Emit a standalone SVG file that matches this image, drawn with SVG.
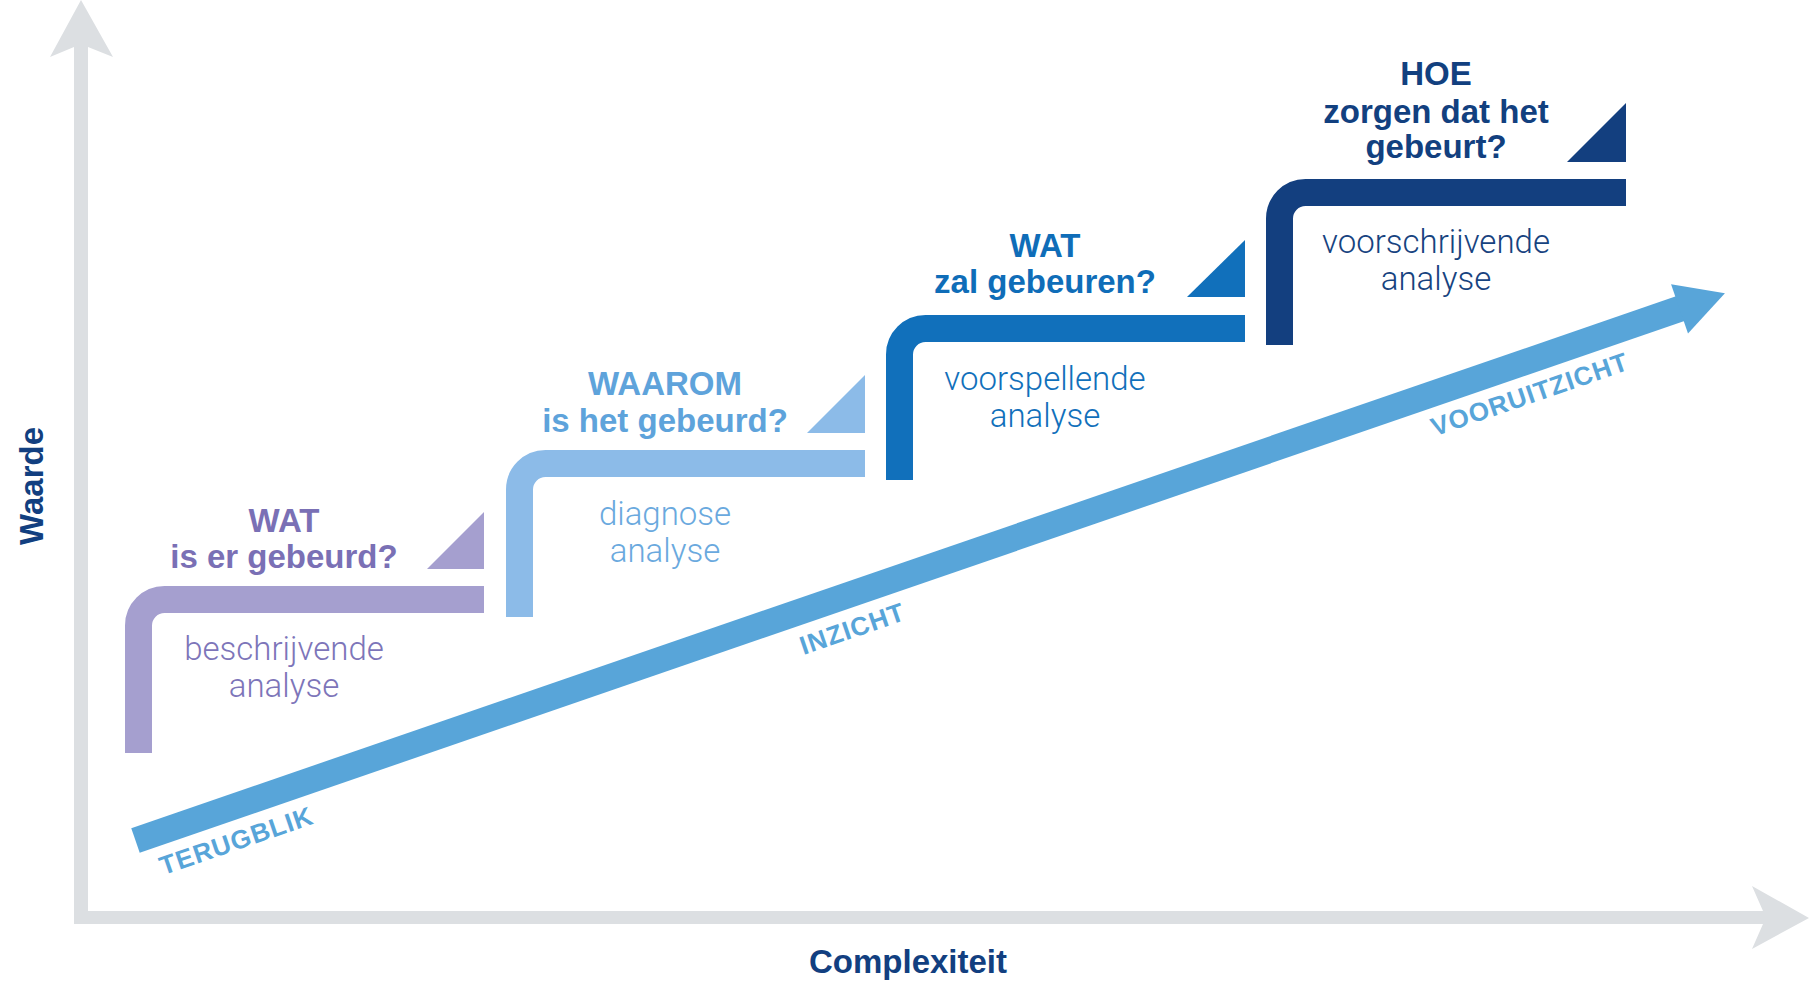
<svg xmlns="http://www.w3.org/2000/svg" width="1810" height="1000" viewBox="0 0 1810 1000">
<style>
.title{font-family:"Liberation Sans",Arial,sans-serif;font-weight:bold;font-size:33px;text-anchor:middle}
.desc{font-family:Roboto,"Liberation Sans",sans-serif;font-weight:300;font-size:33px;text-anchor:middle}
.axis-label{font-family:"Liberation Sans",Arial,sans-serif;font-weight:bold;font-size:33px;fill:#123f80;text-anchor:middle}
.arrow-label{font-family:"Liberation Sans",Arial,sans-serif;font-weight:bold;font-size:26px;fill:#58a5d9;letter-spacing:1px}
.bar{fill:none;stroke-width:27;stroke-linecap:butt}
</style>
<rect width="1810" height="1000" fill="#ffffff"/>
<g id="axes">
<path d="M81,0 L113,57 L88,47 L88,911 L1763,911 L1752,886 L1809,918 L1752,949 L1763,924 L74,924 L74,47 L50,57 Z" fill="#dcdfe2"/>
<text class="axis-label" transform="translate(43,486) rotate(-90)">Waarde</text>
<text class="axis-label" x="908" y="973">Complexiteit</text>
</g>
<g id="connectors">
<g id="trend-arrow" transform="translate(135.5,840.5) rotate(-19)">
<rect x="0" y="-13" width="1636" height="26" fill="#58a5d9"/>
<polygon points="1633,-26 1681,0 1633,26" fill="#58a5d9"/>
<text class="arrow-label" x="15" y="42">TERUGBLIK</text>
<text class="arrow-label" x="692" y="42">INZICHT</text>
<text class="arrow-label" x="1360" y="41">VOORUITZICHT</text>
</g>
</g>
<g id="step1">
<path class="bar" stroke="#a59fcf" d="M138.5,753 L138.5,625.5 A26,26 0 0 1 164.5,599.5 L484,599.5"/>
<polygon points="427,569 484,512 484,569" fill="#a59fcf"/>
<text class="title" fill="#7a70b5" x="284" y="532">WAT</text>
<text class="title" fill="#7a70b5" x="284" y="568">is er gebeurd?</text>
<text class="desc" fill="#7d75b9" x="284" y="660">beschrijvende</text>
<text class="desc" fill="#7d75b9" x="284" y="697">analyse</text>
</g>
<g id="step2">
<path class="bar" stroke="#8cbbe8" d="M519.5,617 L519.5,489.5 A26,26 0 0 1 545.5,463.5 L865,463.5"/>
<polygon points="807,433 865,375 865,433" fill="#8cbbe8"/>
<text class="title" fill="#5ea3db" x="665" y="395">WAAROM</text>
<text class="title" fill="#5ea3db" x="665" y="432">is het gebeurd?</text>
<text class="desc" fill="#6aa9de" x="665" y="525">diagnose</text>
<text class="desc" fill="#6aa9de" x="665" y="562">analyse</text>
</g>
<g id="step3">
<path class="bar" stroke="#1170bb" d="M899.5,480 L899.5,354.5 A26,26 0 0 1 925.5,328.5 L1245,328.5"/>
<polygon points="1187,297 1245,240 1245,297" fill="#1170bb"/>
<text class="title" fill="#0f6db8" x="1045" y="257">WAT</text>
<text class="title" fill="#0f6db8" x="1045" y="293">zal gebeuren?</text>
<text class="desc" fill="#1170bb" x="1045" y="390">voorspellende</text>
<text class="desc" fill="#1170bb" x="1045" y="427">analyse</text>
</g>
<g id="step4">
<path class="bar" stroke="#133f7f" d="M1279.5,345 L1279.5,218.5 A26,26 0 0 1 1305.5,192.5 L1626,192.5"/>
<polygon points="1567,162 1626,103 1626,162" fill="#133f7f"/>
<text class="title" fill="#12407f" x="1436" y="85">HOE</text>
<text class="title" fill="#12407f" x="1436" y="123">zorgen dat het</text>
<text class="title" fill="#12407f" x="1436" y="158">gebeurt?</text>
<text class="desc" fill="#17437f" x="1436" y="253">voorschrijvende</text>
<text class="desc" fill="#17437f" x="1436" y="290">analyse</text>
</g>
</svg>
